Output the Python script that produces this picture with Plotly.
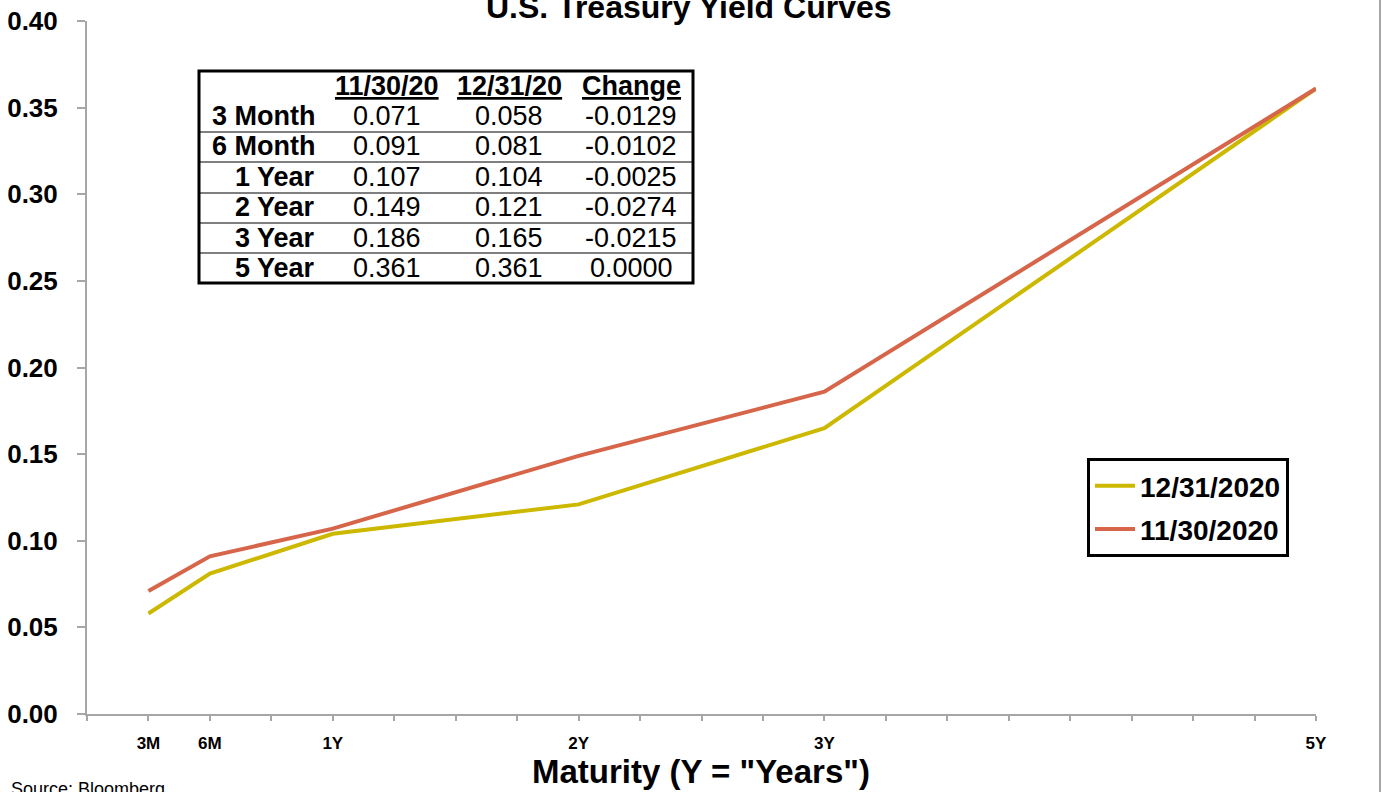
import plotly.graph_objects as go

# ---------------- data ----------------
maturity_months = [3, 6, 12, 24, 36, 60]
maturity_labels = ["3M", "6M", "1Y", "2Y", "3Y", "5Y"]
row_labels = ["3 Month", "6 Month", "1 Year", "2 Year", "3 Year", "5 Year"]
yield_nov30 = [0.071, 0.091, 0.107, 0.149, 0.186, 0.361]
yield_dec31 = [0.058, 0.081, 0.104, 0.121, 0.165, 0.361]
yield_change = [-0.0129, -0.0102, -0.0025, -0.0274, -0.0215, 0.0000]
table_headers = ["11/30/20", "12/31/20", "Change"]
series_names = ["12/31/2020", "11/30/2020"]
y_ticks = [0.00, 0.05, 0.10, 0.15, 0.20, 0.25, 0.30, 0.35, 0.40]

YELLOW = "#CDB800"
ORANGE = "#D6654A"
AXIS_GRAY = "#A6A6A6"
FONT = "Liberation Sans, Arial, sans-serif"

W, H = 1388, 792
L, R, T, B = 87, 1316, 21, 714  # plot area in pixels


def px(x):
    return (x - L) / (R - L)


def py(y):
    return (B - y) / (B - T)


fig = go.Figure()
fig.add_trace(go.Scatter(x=maturity_months, y=yield_dec31, mode="lines",
                         name=series_names[0], legendgroup="a",
                         line=dict(color=YELLOW, width=4)))
fig.add_trace(go.Scatter(x=maturity_months, y=yield_nov30, mode="lines",
                         name=series_names[1], legendgroup="b",
                         line=dict(color=ORANGE, width=4)))

# x ticks every 3 months, labels only at maturities
tickvals = list(range(0, 61, 3))
ticktext = [maturity_labels[maturity_months.index(v)] if v in maturity_months else ""
            for v in tickvals]

annotations = []
shapes = []

# title (partly clipped at top)
annotations.append(dict(text="<b>U.S. Treasury Yield Curves</b>", xref="paper", yref="paper",
                        x=px(689), y=py(27), xanchor="center", yanchor="bottom",
                        showarrow=False, font=dict(family=FONT, size=32, color="black")))
# x-axis title
annotations.append(dict(text="<b>Maturity (Y = \"Years\")</b>", xref="paper", yref="paper",
                        x=px(701), y=py(772), xanchor="center", yanchor="middle",
                        showarrow=False, font=dict(family=FONT, size=33, color="black")))
# source
annotations.append(dict(text="Source: Bloomberg", xref="paper", yref="paper",
                        x=px(9), y=py(789), xanchor="left", yanchor="middle",
                        showarrow=False, font=dict(family=FONT, size=18, color="black")))

# ----- table -----
tab_left, tab_right, tab_top, tab_bottom = 199, 693, 71, 283
shapes.append(dict(type="rect", xref="paper", yref="paper",
                   x0=px(tab_left), x1=px(tab_right), y0=py(tab_top), y1=py(tab_bottom),
                   line=dict(color="black", width=3), fillcolor="white", layer="above"))
row_lines = [132, 162, 193, 223, 253]
for yl in row_lines:
    shapes.append(dict(type="line", xref="paper", yref="paper",
                       x0=px(tab_left), x1=px(tab_right), y0=py(yl), y1=py(yl),
                       line=dict(color="black", width=1.2), layer="above"))
col_centers = [387, 509, 631]
header_y = 86
row_y = [116, 146, 177, 207, 238, 268]
for cx, htxt in zip(col_centers, table_headers):
    annotations.append(dict(text=f"<b><u>{htxt}</u></b>", xref="paper", yref="paper",
                            x=px(cx), y=py(header_y), xanchor="center", yanchor="middle",
                            showarrow=False, font=dict(family=FONT, size=27, color="black")))
for i, lab in enumerate(row_labels):
    annotations.append(dict(text=f"<b>{lab}</b>", xref="paper", yref="paper",
                            x=px(317), y=py(row_y[i]), xanchor="right", yanchor="middle",
                            showarrow=False, font=dict(family=FONT, size=27, color="black")))
    vals = [f"{yield_nov30[i]:.3f}", f"{yield_dec31[i]:.3f}", f"{yield_change[i]:.4f}"]
    for cx, v in zip(col_centers, vals):
        annotations.append(dict(text=v, xref="paper", yref="paper",
                                x=px(cx), y=py(row_y[i]), xanchor="center", yanchor="middle",
                                showarrow=False, font=dict(family=FONT, size=27, color="black")))

# right border of chart area
shapes.append(dict(type="line", xref="paper", yref="paper",
                   x0=px(1380), x1=px(1380), y0=py(0), y1=py(792),
                   line=dict(color=AXIS_GRAY, width=2)))

fig.update_layout(
    width=W, height=H,
    margin=dict(l=L, r=W - R, t=T, b=H - B, autoexpand=False),
    paper_bgcolor="white", plot_bgcolor="white",
    font=dict(family=FONT, color="black"),
    showlegend=True,
    legend=dict(x=px(1087), y=py(458), xanchor="left", yanchor="top",
                bordercolor="black", borderwidth=3, bgcolor="white",
                font=dict(family=FONT, size=28, color="black", weight="bold"),
                itemwidth=40, tracegroupgap=4),
    annotations=annotations,
    shapes=shapes,
)
fig.update_xaxes(range=[0, 60], tickmode="array", tickvals=tickvals, ticktext=ticktext,
                 ticks="outside", ticklen=5, tickcolor=AXIS_GRAY, tickwidth=1.5,
                 showline=True, linecolor=AXIS_GRAY, linewidth=2, showgrid=False,
                 zeroline=False, ticklabelstandoff=8,
                 tickfont=dict(family=FONT, size=17, color="black", weight="bold"))
fig.update_yaxes(range=[0, 0.40], tickmode="array", tickvals=y_ticks,
                 ticktext=[f"{v:.2f}" for v in y_ticks],
                 ticks="outside", ticklen=8, tickcolor=AXIS_GRAY, tickwidth=1.5,
                 showline=True, linecolor=AXIS_GRAY, linewidth=2, showgrid=False,
                 zeroline=False, ticklabelstandoff=14,
                 tickfont=dict(family=FONT, size=26, color="black", weight="bold"))

# remove the default page margin so the figure sits at the window's top-left corner
fig.write_html("out.html", config={"displayModeBar": False},
               post_script="document.body.style.margin='0px';")
